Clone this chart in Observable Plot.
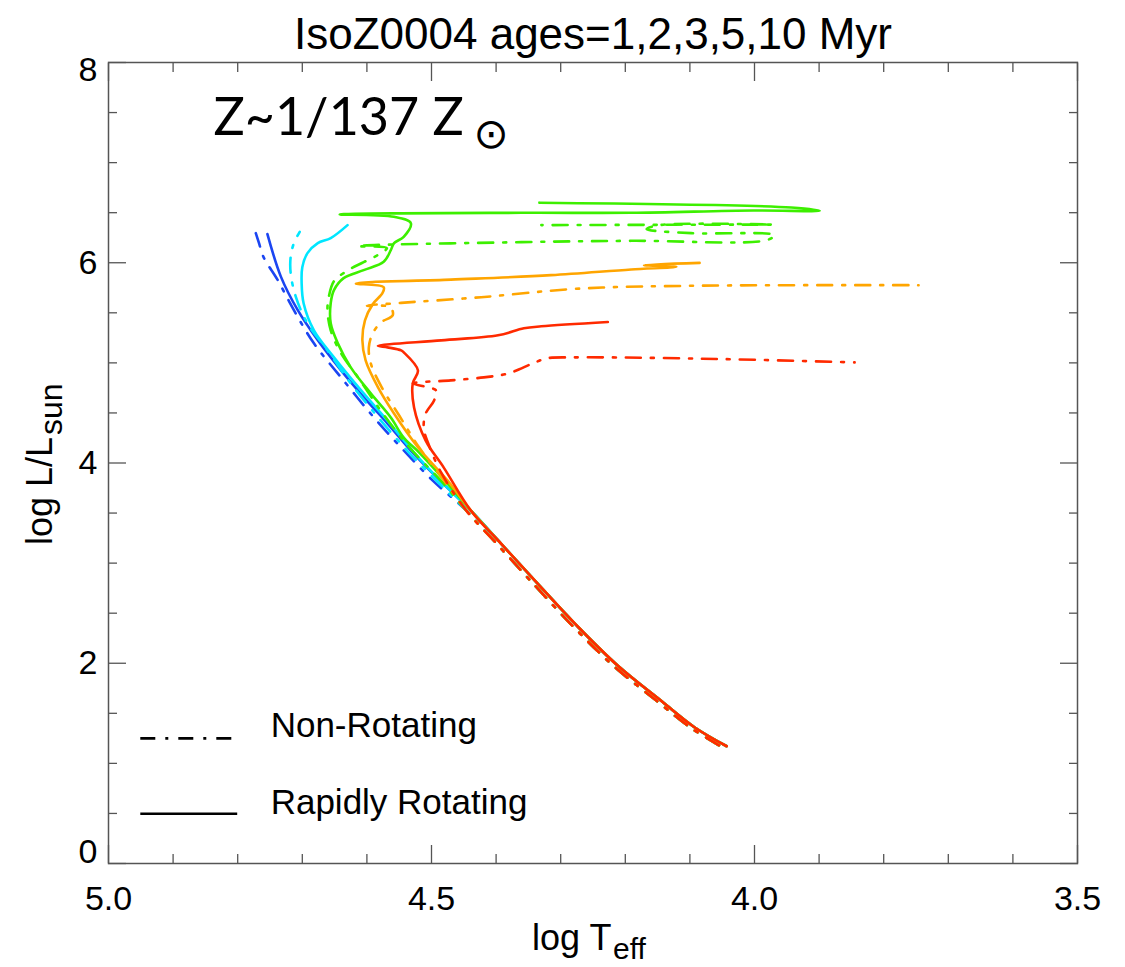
<!DOCTYPE html>
<html><head><meta charset="utf-8">
<script src="https://cdn.jsdelivr.net/npm/d3@7"></script>
<script src="https://cdn.jsdelivr.net/npm/@observablehq/plot@0.6"></script>
<style>body{margin:0;background:#fff;}</style>
</head><body><div id="chart"></div>
<script>
// ---- axis ticks ----
const xMajor = [5.0, 4.5, 4.0, 3.5];
const xMinor = [4.9, 4.8, 4.7, 4.6, 4.4, 4.3, 4.2, 4.1, 3.9, 3.8, 3.7, 3.6];
const yMajor = [0, 2, 4, 6, 8];
const yMinor = [0.5, 1, 1.5, 2.5, 3, 3.5, 4.5, 5, 5.5, 6.5, 7, 7.5];
const yLabelsMid = [2, 4, 6];

// ---- isochrones: [log Teff, log L/Lsun] ----
// shared lower main sequence
const msRot = [[4.043,1.171],[4.093,1.361],[4.144,1.622],[4.211,1.972],[4.273,2.362],[4.341,2.833],[4.392,3.193],[4.439,3.524]];
const msNon = [[4.055,1.181],[4.100,1.361],[4.151,1.622],[4.218,1.972],[4.280,2.362],[4.348,2.833],[4.399,3.193],[4.446,3.524]];
// 1 Myr
const rot1 = [[4.490,3.844],[4.532,4.124],[4.568,4.394],[4.605,4.658],[4.640,4.925],[4.676,5.225],[4.707,5.526],[4.733,5.859],[4.754,6.286]];
const non1 = [[4.498,3.824],[4.547,4.154],[4.589,4.454],[4.640,4.855],[4.682,5.195],[4.713,5.526],[4.738,5.826],[4.760,6.056],[4.767,6.196],[4.772,6.296]];
// 2 Myr
const rot2 = [[4.485,3.814],[4.527,4.104],[4.563,4.384],[4.609,4.725],[4.651,5.055],[4.682,5.325],[4.698,5.596],[4.701,5.796],[4.700,5.956],[4.692,6.096],[4.676,6.196],[4.656,6.246],[4.630,6.376]];
const non2 = [[4.491,3.814],[4.535,4.104],[4.581,4.444],[4.625,4.795],[4.661,5.125],[4.692,5.395],[4.710,5.659],[4.718,5.896],[4.718,6.059],[4.713,6.196],[4.704,6.309]];
// 3 Myr
const rot3 = [[4.478,3.814],[4.519,4.104],[4.543,4.254],[4.563,4.454],[4.594,4.695],[4.625,4.955],[4.645,5.195],[4.656,5.395],[4.656,5.596],[4.651,5.726],[4.636,5.846],[4.605,5.926],[4.574,6.009],[4.563,6.126],[4.558,6.196],[4.543,6.259],[4.532,6.396],[4.558,6.459],[4.642,6.483],[4.361,6.499],[4.191,6.499],[4.002,6.522],[3.899,6.519],[3.943,6.552],[4.333,6.600]];
const non3 = [[4.484,3.814],[4.527,4.104],[4.552,4.294],[4.581,4.545],[4.614,4.858],[4.640,5.095],[4.656,5.325],[4.661,5.526],[4.659,5.659],[4.651,5.816],[4.629,5.926],[4.605,6.006],[4.578,6.096],[4.569,6.146],[4.614,6.166],[4.361,6.206],[4.191,6.219],[3.981,6.226],[3.969,6.276],[4.098,6.296],[4.167,6.336],[4.147,6.376],[3.971,6.381],[4.330,6.376]];
// 5 Myr
const rot5 = [[4.475,3.824],[4.521,4.157],[4.558,4.494],[4.583,4.758],[4.602,5.025],[4.607,5.225],[4.603,5.425],[4.591,5.586],[4.576,5.696],[4.574,5.756],[4.617,5.793],[4.470,5.831],[4.315,5.876],[4.191,5.933],[4.121,5.959],[4.171,5.976],[4.085,5.999]];
const non5 = [[4.485,3.864],[4.519,4.154],[4.550,4.474],[4.577,4.755],[4.594,4.995],[4.597,5.155],[4.591,5.295],[4.578,5.405],[4.560,5.475],[4.564,5.556],[4.600,5.571],[4.547,5.599],[4.423,5.656],[4.268,5.743],[4.082,5.771],[3.746,5.776]];
// 10 Myr
const rot10 = [[4.481,3.954],[4.509,4.224],[4.527,4.555],[4.529,4.795],[4.521,4.925],[4.543,5.105],[4.547,5.125],[4.568,5.155],[4.583,5.170],[4.485,5.225],[4.397,5.275],[4.357,5.345],[4.330,5.365],[4.227,5.408]];
const non10 = [[4.485,3.904],[4.505,4.194],[4.512,4.344],[4.509,4.494],[4.496,4.625],[4.493,4.725],[4.505,4.755],[4.529,4.795],[4.470,4.825],[4.419,4.855],[4.381,4.895],[4.343,4.995],[4.322,5.045],[4.279,5.055],[4.082,5.042],[3.845,5.005]];

const ages = ["1", "2", "3", "5", "10"];
const rotTracks = [rot1, rot2, rot3, rot5, rot10];
const nonTracks = [non1, non2, non3, non5, non10];
const legendLabels = ["Non-Rotating", "Rapidly Rotating"];
const title = "IsoZ0004 ages=1,2,3,5,10 Myr";

// ---- styles ----
const palette = ["#1b45f2", "#00e6ff", "#3def00", "#ffa500", "#ff2a00"];
const dashDot = "15,10,3,10";
const axisColor = "#555";
const font = "Liberation Sans, Arial, Helvetica, sans-serif";

const trackMarks = [];
ages.forEach((age, i) => {
  const non = msNon.concat(nonTracks[i]).map(([T, L]) => ({T, L}));
  const rot = msRot.concat(rotTracks[i]).map(([T, L]) => ({T, L}));
  trackMarks.push(Plot.line(non, {x: "T", y: "L", stroke: palette[i], strokeWidth: 2.6, strokeDasharray: dashDot, curve: "catmull-rom"}));
  trackMarks.push(Plot.line(rot, {x: "T", y: "L", stroke: palette[i], strokeWidth: 2.6, curve: "catmull-rom"}));
});

const txt = d => d;
const chart = Plot.plot({
  width: 1125, height: 967,
  marginLeft: 108, marginRight: 48, marginTop: 62, marginBottom: 104,
  x: {domain: [5.0, 3.5], axis: null},
  y: {domain: [0, 8], axis: null},
  style: {fontFamily: font, background: "white", color: "black", overflow: "visible"},
  marks: [
    ...trackMarks,
    Plot.frame({stroke: axisColor, strokeWidth: 1.5}),
    // inward ticks, all four sides
    Plot.axisX(xMinor, {anchor: "bottom", tickSize: -9, tickFormat: () => "", label: null, stroke: axisColor, strokeWidth: 1.3}),
    Plot.axisX(xMajor, {anchor: "bottom", tickSize: -18, tickFormat: () => "", label: null, stroke: axisColor, strokeWidth: 1.3}),
    Plot.axisX(xMinor, {anchor: "top", tickSize: -9, tickFormat: () => "", label: null, stroke: axisColor, strokeWidth: 1.3}),
    Plot.axisX(xMajor, {anchor: "top", tickSize: -18, tickFormat: () => "", label: null, stroke: axisColor, strokeWidth: 1.3}),
    Plot.axisY(yMinor, {anchor: "left", tickSize: -9, tickFormat: () => "", label: null, stroke: axisColor, strokeWidth: 1.3}),
    Plot.axisY(yMajor, {anchor: "left", tickSize: -18, tickFormat: () => "", label: null, stroke: axisColor, strokeWidth: 1.3}),
    Plot.axisY(yMinor, {anchor: "right", tickSize: -9, tickFormat: () => "", label: null, stroke: axisColor, strokeWidth: 1.3}),
    Plot.axisY(yMajor, {anchor: "right", tickSize: -18, tickFormat: () => "", label: null, stroke: axisColor, strokeWidth: 1.3}),
    // tick labels
    Plot.axisX(xMajor, {anchor: "bottom", tickSize: 0, tickPadding: 22, tickFormat: d3.format(".1f"), label: null, fontSize: 34}),
    Plot.text(yLabelsMid, {y: d => d, text: d => String(d), frameAnchor: "left", dx: -11, textAnchor: "end", lineAnchor: "middle", fontSize: 34}),
    Plot.text([yMajor[4]], {y: d => d, text: d => String(d), frameAnchor: "left", dx: -11, dy: 8, textAnchor: "end", lineAnchor: "middle", fontSize: 34}),
    Plot.text([yMajor[0]], {y: d => d, text: d => String(d), frameAnchor: "left", dx: -11, dy: -11, textAnchor: "end", lineAnchor: "middle", fontSize: 34}),
    // axis titles
    Plot.text(["log T"], {text: txt, frameAnchor: "bottom", dx: -61, dy: 61, textAnchor: "start", lineAnchor: "top", fontSize: 36}),
    Plot.text(["eff"], {text: txt, frameAnchor: "bottom", dx: 20, dy: 74, textAnchor: "start", lineAnchor: "top", fontSize: 30}),
    Plot.text(["log L/L"], {text: txt, frameAnchor: "left", dx: -68, dy: 82, rotate: -90, textAnchor: "start", lineAnchor: "middle", fontSize: 36}),
    Plot.text(["sun"], {text: txt, frameAnchor: "left", dx: -57, dy: -28, rotate: -90, textAnchor: "start", lineAnchor: "middle", fontSize: 32}),
    // title
    Plot.text([title], {text: txt, frameAnchor: "top", dy: -45, lineAnchor: "top", fontSize: 44}),
    // annotation
    Plot.text(["Z~1/137 Z"], {text: txt, frameAnchor: "top-left", dx: 105, dy: 36, textAnchor: "start", lineAnchor: "top", fontSize: 52, fontFamily: "Lato, Noto Sans, sans-serif"}),
    Plot.text(["\u2299"], {text: txt, frameAnchor: "top-left", dx: 365, dy: 72, textAnchor: "start", lineAnchor: "middle", fontSize: 42, fontFamily: "DejaVu Sans, sans-serif"}),
    // legend
    Plot.ruleY([1.25], {x1: 4.95, x2: 4.80, stroke: "black", strokeWidth: 2.6, strokeDasharray: dashDot}),
    Plot.ruleY([0.497], {x1: 4.95, x2: 4.80, stroke: "black", strokeWidth: 2.6}),
    Plot.text([legendLabels[0]], {text: txt, x: 4.749, y: 1.38, textAnchor: "start", lineAnchor: "middle", fontSize: 35}),
    Plot.text([legendLabels[1]], {text: txt, x: 4.749, y: 0.61, textAnchor: "start", lineAnchor: "middle", fontSize: 35})
  ]
});
document.getElementById("chart").appendChild(chart);
</script>
</body></html>
